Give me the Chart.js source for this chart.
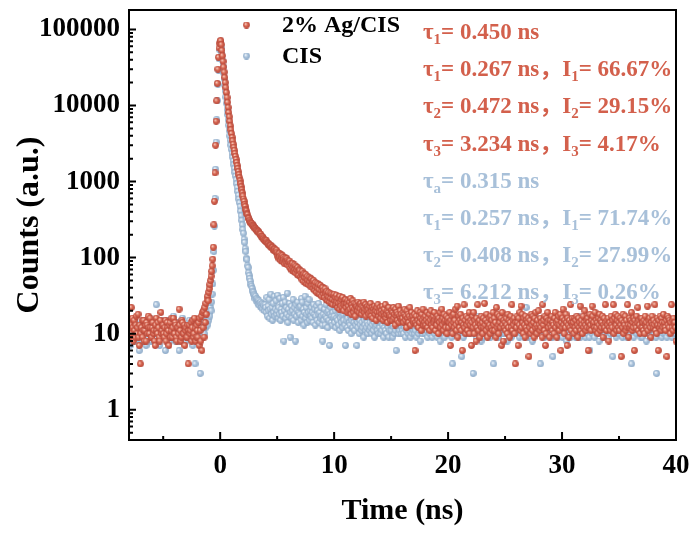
<!DOCTYPE html>
<html lang="en">
<head>
<meta charset="UTF-8">
<title>TRPL decay: 2% Ag/CIS vs CIS</title>
<style>
  html, body { margin: 0; padding: 0; background: #fff; }
  #wrap { width: 691px; height: 534px; }
</style>
<script src="https://cdn.jsdelivr.net/npm/chart.js"></script>
</head>
<body>
<div id="wrap"><canvas id="decay" width="691" height="534"></canvas></div>
<script>
// channel grid (ns): counts below are one value per channel, 20 channels per ns
const T_START = -8.0, T_STEP = 0.05;

const xTicks = [0, 10, 20, 30, 40];
const yTicks = [1, 10, 100, 1000, 10000, 100000];

// 2% Ag/CIS counts, one row per ns from -8 ns
const agCounts = [
  14, 11, 9, 13, 22, 10, 16, 12, 8, 15, 11, 9, 13, 17, 10, 12, 18, 9, 7, 13,
  4, 10, 12, 15, 9, 11, 15, 8, 11, 13, 8, 14, 13, 10, 17, 12, 10, 16, 12, 9,
  9, 12, 14, 10, 11, 8, 7, 13, 16, 11, 10, 14, 12, 9, 8, 15, 19, 10, 11, 13,
  13, 10, 9, 12, 15, 8, 10, 14, 12, 11, 7, 13, 14, 9, 11, 16, 9, 12, 16, 10,
  10, 14, 13, 9, 8, 12, 12, 10, 21, 13, 11, 8, 9, 15, 14, 10, 10, 13, 7, 11,
  12, 9, 9, 13, 4, 11, 13, 10, 11, 14, 8, 12, 15, 9, 10, 16, 12, 8, 9, 13,
  11, 9, 14, 7, 16, 11, 8, 17, 6, 19, 12, 20, 9, 22, 14, 25, 18, 28, 31, 27,
  35, 39, 44, 50, 57, 66, 78, 95, 137, 270, 550, 1300, 3000, 6200, 11500, 19500, 30000, 43000, 57000, 66000,
  70000, 71000, 63000, 53000, 45000, 38000, 32000, 27500, 23400, 20000, 17200, 14800, 12700, 11000, 9400, 8100, 7100, 6200, 5400, 4800,
  4270, 3800, 3430, 3090, 2820, 2570, 2340, 2140, 1950, 1780, 1620, 1480, 1350, 1230, 1120, 1020, 930, 850, 776, 708,
  646, 589, 548, 497, 470, 425, 410, 376, 366, 333, 327, 310, 302, 290, 285, 281, 276, 266, 261, 255,
  248, 244, 240, 233, 229, 226, 218, 221, 212, 206, 199, 203, 192, 188, 181, 186, 179, 172, 168, 170,
  163, 166, 158, 155, 149, 153, 147, 143, 139, 145, 134, 138, 136, 129, 124, 131, 127, 122, 118, 125,
  118, 104, 112, 97, 114, 103, 92, 109, 99, 106, 88, 101, 94, 83, 99, 90, 85, 97, 80, 91,
  86, 76, 90, 72, 83, 79, 68, 84, 73, 66, 80, 70, 63, 77, 69, 60, 74, 65, 58, 70,
  67, 56, 62, 52, 66, 58, 49, 61, 55, 47, 60, 53, 45, 57, 50, 44, 55, 48, 42, 53,
  52, 44, 48, 39, 50, 43, 37, 47, 41, 35, 46, 40, 34, 44, 38, 33, 43, 37, 31, 41,
  40, 33, 37, 30, 39, 34, 28, 36, 31, 27, 35, 30, 26, 34, 29, 25, 33, 28, 24, 32,
  33, 27, 30, 24, 32, 26, 22, 29, 25, 21, 31, 26, 23, 28, 22, 30, 24, 20, 27, 25,
  28, 22, 25, 19, 27, 23, 20, 26, 21, 29, 18, 24, 22, 27, 19, 25, 21, 17, 24, 22,
  23, 20, 26, 22, 19, 24, 21, 25, 18, 23, 20, 22, 26, 19, 21, 24, 17, 22, 20, 23,
  21, 18, 23, 19, 25, 17, 20, 22, 16, 21, 19, 23, 18, 20, 15, 22, 19, 24, 17, 20,
  19, 22, 16, 20, 18, 23, 15, 19, 21, 17, 24, 16, 18, 20, 14, 19, 22, 17, 18, 15,
  17, 20, 15, 19, 22, 16, 18, 13, 21, 17, 19, 15, 18, 23, 14, 17, 20, 16, 18, 15,
  16, 19, 14, 18, 21, 15, 17, 12, 20, 16, 18, 14, 17, 22, 13, 16, 19, 15, 17, 14,
  15, 18, 6, 14, 17, 13, 20, 15, 12, 17, 14, 19, 16, 11, 18, 15, 21, 13, 16, 14,
  17, 13, 15, 19, 12, 16, 14, 18, 11, 15, 20, 13, 16, 12, 17, 14, 19, 15, 11, 16,
  13, 17, 15, 10, 16, 14, 19, 12, 15, 21, 13, 16, 11, 18, 14, 15, 12, 17, 10, 15,
  16, 12, 14, 19, 7, 15, 13, 17, 10, 14, 18, 12, 15, 21, 13, 11, 23, 9, 14, 17,
  12, 15, 18, 11, 14, 6, 16, 13, 24, 12, 15, 10, 17, 13, 11, 16, 14, 19, 10, 13,
  15, 7, 14, 17, 12, 19, 10, 15, 13, 8, 16, 12, 24, 14, 11, 15, 9, 13, 17, 12,
  14, 10, 16, 12, 25, 13, 15, 11, 18, 9, 14, 12, 16, 13, 10, 17, 12, 15, 11, 19,
  13, 16, 11, 14, 9, 22, 12, 18, 13, 10, 17, 14, 12, 16, 7, 19, 13, 8, 15, 12,
  14, 11, 16, 13, 10, 18, 12, 15, 9, 14, 17, 12, 24, 11, 15, 13, 16, 10, 4, 14,
  12, 17, 14, 7, 16, 13, 19, 11, 23, 12, 18, 14, 10, 16, 13, 9, 17, 12, 15, 11,
  14, 16, 5, 12, 15, 10, 18, 13, 11, 17, 14, 9, 16, 12, 19, 13, 10, 15, 12, 20,
  13, 11, 16, 12, 14, 9, 24, 13, 15, 11, 17, 7, 10, 16, 14, 19, 12, 15, 9, 13,
  15, 12, 17, 11, 14, 13, 10, 16, 19, 12, 14, 9, 15, 13, 17, 11, 13, 18, 6, 14,
  12, 16, 21, 13, 10, 15, 12, 18, 14, 7, 16, 13, 9, 15, 12, 24, 11, 14, 16, 13,
  14, 10, 16, 12, 15, 11, 17, 13, 9, 16, 12, 14, 23, 11, 15, 13, 10, 17, 12, 14,
  20, 13, 11, 15, 12, 16, 6, 14, 12, 18, 13, 11, 15, 23, 17, 13, 14, 12, 19, 11,
  15, 12, 14, 10, 16, 13, 18, 11, 15, 12, 14, 17, 9, 13, 16, 12, 24, 14, 11, 15,
  13, 16, 8, 12, 14, 11, 17, 13, 12, 15, 24, 10, 16, 12, 18, 13, 11, 15, 17, 12,
  14, 11, 16, 13, 5, 15, 12, 18, 10, 14, 13, 17, 11, 15, 12, 24, 13, 9, 16, 12,
  13, 15, 19, 11, 14, 12, 16, 6, 15, 13, 12, 17, 14, 22, 11, 15, 13, 10, 16, 12,
  16, 12, 14, 11, 15, 10, 17, 13, 14, 12, 23, 11, 15, 13, 16, 12, 9, 14, 17, 13,
  12, 15, 13, 24, 11, 14, 10, 16, 13, 6, 15, 12, 17, 13, 11, 16, 14, 12, 18, 13,
  14, 12, 11, 15, 5, 17, 13, 16, 12, 15, 10, 14, 24, 12, 15, 11, 16, 13, 14, 12,
  8
];

// CIS counts, same channels
const cisCounts = [
  10, 12, 7, 9, 13, 11, 9, 8, 11, 14, 15, 10, 8, 12, 12, 9, 10, 13, 6, 11,
  11, 9, 14, 12, 8, 10, 10, 15, 13, 9, 7, 11, 12, 14, 9, 8, 16, 11, 10, 12,
  8, 13, 12, 10, 11, 9, 9, 14, 24, 12, 10, 8, 13, 11, 7, 10, 11, 15, 14, 9,
  9, 11, 12, 13, 6, 10, 11, 8, 15, 12, 10, 14, 8, 9, 13, 11, 10, 12, 17, 10,
  11, 9, 8, 12, 14, 11, 10, 8, 6, 13, 12, 10, 9, 14, 16, 11, 11, 9, 13, 12,
  8, 11, 12, 9, 10, 13, 15, 11, 9, 12, 11, 8, 7, 10, 13, 12, 4, 9, 10, 11,
  12, 11, 8, 13, 9, 3, 12, 10, 14, 9, 11, 15, 10, 13, 16, 12, 14, 17, 13, 18,
  15, 19, 17, 22, 20, 26, 33, 45, 68, 120, 260, 600, 1450, 3300, 6500, 11600, 19000, 29000, 41000, 54000,
  63000, 64600, 56200, 46800, 38900, 32400, 26900, 22400, 18600, 15500, 12900, 10700, 8900, 7600, 6460, 5500, 4680, 3980, 3470, 3020,
  2630, 2340, 2090, 1860, 1660, 1480, 1320, 1175, 1050, 933, 832, 741, 661, 589, 525, 468, 407, 355, 309, 269,
  234, 209, 174, 158, 131, 120, 98, 94, 78, 74, 63, 58, 53, 49, 44, 42, 39, 36, 35, 33,
  32, 29, 31, 27, 29, 26, 28, 24, 27, 25, 23, 26, 24, 22, 25, 21, 24, 23, 20, 24,
  22, 19, 30, 17, 23, 20, 28, 16, 21, 33, 18, 22, 15, 25, 19, 31, 17, 21, 27, 18,
  20, 32, 16, 22, 18, 29, 15, 21, 19, 25, 17, 30, 8, 20, 26, 16, 22, 18, 34, 14,
  21, 17, 25, 9, 19, 23, 16, 20, 28, 15, 22, 18, 8, 24, 17, 20, 26, 14, 19, 22,
  18, 23, 15, 29, 26, 17, 21, 13, 19, 31, 16, 22, 18, 14, 25, 19, 28, 15, 20, 17,
  22, 16, 19, 14, 24, 18, 21, 13, 17, 23, 15, 20, 18, 25, 14, 19, 16, 22, 17, 13,
  8, 18, 15, 21, 13, 17, 24, 16, 19, 12, 20, 15, 7, 18, 22, 14, 17, 13, 19, 16,
  17, 14, 20, 12, 16, 22, 15, 18, 13, 19, 11, 16, 21, 14, 17, 12, 18, 15, 20, 13,
  7, 15, 18, 12, 16, 11, 19, 14, 13, 17, 10, 15, 20, 12, 16, 14, 11, 18, 13, 15,
  7, 14, 12, 16, 10, 15, 13, 18, 11, 14, 12, 17, 9, 15, 13, 11, 16, 12, 14, 10,
  13, 16, 11, 14, 12, 18, 10, 13, 15, 11, 14, 9, 16, 12, 13, 17, 11, 14, 10, 15,
  12, 14, 10, 16, 11, 13, 15, 9, 12, 17, 11, 14, 10, 13, 16, 12, 9, 15, 11, 13,
  14, 11, 13, 9, 15, 12, 10, 16, 11, 6, 13, 12, 14, 10, 15, 11, 13, 17, 10, 12,
  11, 13, 10, 15, 12, 9, 14, 11, 16, 12, 10, 13, 11, 15, 9, 12, 14, 10, 13, 11,
  12, 10, 14, 11, 16, 9, 13, 12, 10, 15, 11, 8, 14, 12, 13, 10, 16, 11, 12, 14,
  10, 13, 11, 15, 9, 12, 14, 11, 10, 17, 12, 13, 9, 11, 15, 12, 10, 14, 13, 11,
  12, 9, 14, 11, 13, 10, 8, 16, 12, 11, 14, 10, 13, 12, 9, 15, 11, 17, 12, 10,
  11, 14, 12, 10, 15, 13, 9, 12, 4, 11, 14, 12, 10, 16, 13, 11, 12, 15, 10, 13,
  12, 10, 13, 15, 5, 11, 14, 9, 12, 13, 10, 16, 12, 11, 14, 10, 13, 12, 15, 11,
  10, 13, 11, 14, 3, 12, 10, 15, 11, 13, 9, 12, 14, 11, 17, 12, 10, 13, 8, 14,
  12, 9, 15, 11, 13, 10, 14, 12, 16, 11, 13, 10, 12, 14, 9, 15, 11, 13, 10, 12,
  4, 11, 13, 10, 15, 12, 14, 11, 9, 16, 12, 10, 13, 11, 14, 12, 15, 10, 13, 11,
  13, 10, 12, 14, 8, 15, 11, 13, 10, 12, 14, 9, 16, 12, 11, 13, 10, 15, 12, 14,
  10, 15, 12, 11, 14, 9, 13, 12, 16, 10, 14, 11, 13, 12, 9, 15, 11, 22, 13, 10,
  12, 9, 14, 11, 13, 10, 12, 15, 8, 14, 11, 13, 10, 16, 12, 11, 14, 10, 13, 12,
  11, 13, 4, 12, 10, 15, 12, 11, 14, 9, 13, 12, 10, 16, 11, 14, 12, 10, 13, 11,
  14, 10, 12, 9, 5, 13, 11, 15, 10, 12, 14, 11, 13, 9, 16, 12, 10, 14, 11, 13,
  12, 9, 14, 11, 16, 10, 13, 12, 8, 15, 11, 13, 10, 14, 12, 9, 15, 11, 13, 10,
  10, 13, 11, 15, 9, 12, 14, 10, 17, 11, 13, 12, 9, 14, 11, 15, 10, 12, 13, 11,
  13, 9, 12, 15, 10, 14, 11, 13, 9, 6, 12, 14, 11, 10, 15, 12, 13, 9, 14, 11,
  12, 15, 10, 13, 11, 8, 14, 12, 10, 16, 11, 13, 12, 9, 15, 10, 13, 11, 14, 12,
  11, 13, 9, 14, 12, 10, 15, 11, 13, 5, 12, 14, 10, 11, 13, 9, 15, 12, 10, 14,
  14, 10, 12, 13, 11, 15, 9, 12, 14, 10, 13, 11, 16, 12, 9, 13, 11, 14, 12, 10,
  10, 13, 4, 11, 14, 12, 9, 15, 11, 13, 12, 10, 14, 11, 13, 16, 10, 12, 9, 14,
  12, 9, 14, 11, 16, 10, 13, 12, 8, 15, 11, 13, 10, 14, 12, 11, 15, 9, 13, 12,
  11, 14, 10, 13, 12, 9, 3, 15, 11, 13, 12, 10, 14, 11, 13, 9, 15, 12, 10, 13,
  13, 10, 15, 12, 9, 14, 11, 16, 10, 12, 14, 11, 13, 9, 12, 15, 10, 13, 11, 14,
  12
];

// fit results printed in the plot
const agNotes = [
  'τ_1= 0.450 ns',
  'τ_1= 0.267 ns，I_1= 66.67%',
  'τ_2= 0.472 ns，I_2= 29.15%',
  'τ_3= 3.234 ns，I_3= 4.17%'
];
const cisNotes = [
  'τ_a= 0.315 ns',
  'τ_1= 0.257 ns，I_1= 71.74%',
  'τ_2= 0.408 ns，I_2= 27.99%',
  'τ_3= 6.212 ns，I_3= 0.26%'
];

const SERIF = '"Liberation Serif", "Times New Roman", "Noto Sans CJK SC", serif';
const RED = '#d5604b', BLUE = '#a9c2db';
const RED_TXT = '#d3604c', BLUE_TXT = '#a8c0d9';

function toPoints(counts) {
  return counts.map((v, i) => ({ x: +(T_START + i * T_STEP).toFixed(3), y: v }));
}

// small shaded ball used as marker
function ball(light, mid, dark) {
  const c = document.createElement('canvas');
  c.width = c.height = 7;
  const g = c.getContext('2d');
  const grad = g.createRadialGradient(2.5, 2.3, 0.2, 3.5, 3.5, 3.6);
  grad.addColorStop(0, light);
  grad.addColorStop(0.5, mid);
  grad.addColorStop(1, dark);
  g.fillStyle = grad;
  g.beginPath();
  g.arc(3.5, 3.5, 3.4, 0, Math.PI * 2);
  g.fill();
  return c;
}
const redBall = ball('#f7cbbd', RED, '#b3473a');
const blueBall = ball('#f1f6fb', BLUE, '#8ba8c6');

function richText(ctx, str, x, y, size) {
  const parts = str.split(/_(.)/);
  parts.forEach((txt, i) => {
    const sub = i % 2 === 1;
    ctx.font = `bold ${sub ? Math.round(size * 0.66) : size}px ${SERIF}`;
    ctx.fillText(txt, x, sub ? y + size * 0.22 : y);
    x += ctx.measureText(txt).width;
  });
}

const overlay = {
  id: 'overlay',
  afterDatasetsDraw(chart) {
    const { ctx, chartArea: a, scales: { x, y } } = chart;
    ctx.save();
    ctx.strokeStyle = '#000';
    ctx.lineWidth = 2;
    ctx.strokeRect(a.left, a.top, a.right - a.left, a.bottom - a.top);

    // inward ticks on left and bottom axes
    ctx.beginPath();
    for (let e = -1; e <= 5; e++) {
      for (let m = 1; m < 10; m++) {
        const v = m * Math.pow(10, e);
        if (v < y.min || v > y.max) continue;
        const py = y.getPixelForValue(v);
        ctx.moveTo(a.left, py);
        ctx.lineTo(a.left + (m === 1 ? 7 : 4), py);
      }
    }
    for (let v = -5; v < 40; v += 5) {
      const px = x.getPixelForValue(v);
      ctx.moveTo(px, a.bottom);
      ctx.lineTo(px, a.bottom - (v % 10 === 0 ? 8 : 4));
    }
    ctx.stroke();

    // legend
    ctx.fillStyle = '#000';
    ctx.textBaseline = 'middle';
    ctx.font = `bold 24px ${SERIF}`;
    chart.data.datasets.forEach((ds, i) => {
      const cy = 25 + i * 31;
      ctx.drawImage(ds.pointStyle, 243, cy - 3.5);
      ctx.fillText(ds.label, 282, cy + 1);
    });

    // fit annotations
    ctx.textBaseline = 'alphabetic';
    ctx.fillStyle = RED_TXT;
    agNotes.forEach((s, i) => richText(ctx, s, 423, 39 + i * 37.2, 23));
    ctx.fillStyle = BLUE_TXT;
    cisNotes.forEach((s, i) => richText(ctx, s, 423, 188 + i * 37, 23));
    ctx.restore();
  }
};

const tickFont = { family: SERIF, size: 27, weight: 'bold' };

new Chart(document.getElementById('decay'), {
  type: 'scatter',
  data: {
    datasets: [
      { label: '2% Ag/CIS', data: toPoints(agCounts), pointStyle: redBall, pointRadius: 3.5 },
      { label: 'CIS', data: toPoints(cisCounts), pointStyle: blueBall, pointRadius: 3.5 }
    ]
  },
  options: {
    responsive: false,
    animation: false,
    layout: { padding: { top: 10, right: 15, bottom: 0, left: 0 } },
    plugins: { legend: { display: false }, tooltip: { enabled: false } },
    scales: {
      x: {
        type: 'linear', min: -8, max: 40,
        afterBuildTicks: s => { s.ticks = xTicks.map(v => ({ value: v })); },
        ticks: { font: tickFont, color: '#000', padding: 10, maxRotation: 0, autoSkip: false },
        grid: { display: false, drawTicks: false },
        border: { display: false },
        title: { display: true, text: 'Time (ns)', color: '#000', font: { family: SERIF, size: 30, weight: 'bold' }, padding: { bottom: 5 } },
        afterFit: s => { s.height = 94; s.paddingLeft = 0; s.paddingRight = 0; }
      },
      y: {
        type: 'logarithmic', min: 0.4, max: 180000,
        afterBuildTicks: s => { s.ticks = yTicks.map(v => ({ value: v })); },
        ticks: { font: tickFont, color: '#000', padding: 9, callback: v => String(v) },
        grid: { display: false, drawTicks: false },
        border: { display: false },
        title: { display: true, text: 'Counts (a.u.)', color: '#000', font: { family: SERIF, size: 32, weight: 'bold' }, padding: { top: 11 } },
        afterFit: s => { s.width = 129; s.paddingTop = 0; s.paddingBottom = 0; }
      }
    }
  },
  plugins: [overlay]
});
</script>
</body>
</html>
